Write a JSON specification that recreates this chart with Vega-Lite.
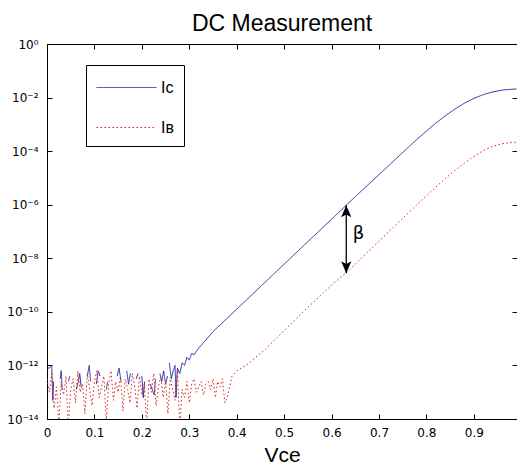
{
  "$schema": "https://vega.github.io/schema/vega-lite/v6.json",
  "width": 470,
  "height": 375,
  "autosize": {"type": "none"},
  "padding": {"left": 47, "top": 44, "right": 0, "bottom": 46},
  "title": {"text": "DC Measurement", "font": "Liberation Sans", "fontSize": 23, "fontWeight": "normal", "color": "black", "anchor": "middle", "frame": "group", "offset": 2},
  "datasets": {
    "curves": [
      {"v":0.000,"i":7.94e-13,"s":"IC","g":1},{"v":0.005,"i":7.94e-13,"s":"IC","g":1},{"v":0.010,"i":1e-12,"s":"IC","g":1},{"v":0.012,"i":5.01e-14,"s":"IC","g":1},{"v":0.014,"i":2.51e-13,"s":"IC","g":1},
      {"v":0.028,"i":3.16e-13,"s":"IC","g":2},{"v":0.030,"i":6.31e-13,"s":"IC","g":2},{"v":0.032,"i":1.26e-13,"s":"IC","g":2},
      {"v":0.045,"i":2.51e-13,"s":"IC","g":3},{"v":0.048,"i":3.98e-13,"s":"IC","g":3},
      {"v":0.062,"i":1.26e-13,"s":"IC","g":4},{"v":0.066,"i":2.51e-13,"s":"IC","g":4},{"v":0.069,"i":5.01e-13,"s":"IC","g":4},{"v":0.072,"i":1.58e-13,"s":"IC","g":4},
      {"v":0.085,"i":3.98e-13,"s":"IC","g":5},{"v":0.089,"i":1e-12,"s":"IC","g":5},{"v":0.092,"i":2.51e-13,"s":"IC","g":5},
      {"v":0.104,"i":2.0e-13,"s":"IC","g":6},{"v":0.108,"i":6.31e-13,"s":"IC","g":6},{"v":0.112,"i":3.98e-13,"s":"IC","g":6},
      {"v":0.125,"i":1.26e-13,"s":"IC","g":7},{"v":0.128,"i":2.51e-13,"s":"IC","g":7},
      {"v":0.148,"i":3.98e-13,"s":"IC","g":8},{"v":0.152,"i":7.94e-13,"s":"IC","g":8},{"v":0.156,"i":2.51e-13,"s":"IC","g":8},
      {"v":0.168,"i":6.31e-13,"s":"IC","g":9},{"v":0.172,"i":2.0e-13,"s":"IC","g":9},{"v":0.176,"i":5.01e-13,"s":"IC","g":9},
      {"v":0.188,"i":3.16e-13,"s":"IC","g":10},{"v":0.192,"i":5.01e-13,"s":"IC","g":10},
      {"v":0.200,"i":3.98e-13,"s":"IC","g":11},{"v":0.203,"i":6.31e-14,"s":"IC","g":11},{"v":0.206,"i":2.51e-13,"s":"IC","g":11},
      {"v":0.218,"i":2.0e-13,"s":"IC","g":12},{"v":0.222,"i":1.26e-13,"s":"IC","g":12},{"v":0.226,"i":7.94e-14,"s":"IC","g":12},{"v":0.229,"i":3.16e-13,"s":"IC","g":12},
      {"v":0.238,"i":5.01e-13,"s":"IC","g":13},{"v":0.242,"i":2.51e-13,"s":"IC","g":13},{"v":0.246,"i":6.31e-13,"s":"IC","g":13},{"v":0.250,"i":2.0e-13,"s":"IC","g":13},{"v":0.254,"i":3.98e-13,"s":"IC","g":13},
      {"v":0.258,"i":1.26e-12,"s":"IC","g":14},{"v":0.262,"i":3.16e-13,"s":"IC","g":14},{"v":0.266,"i":6.31e-13,"s":"IC","g":14},{"v":0.270,"i":1e-12,"s":"IC","g":14},{"v":0.272,"i":6.31e-14,"s":"IC","g":14},{"v":0.275,"i":7.94e-13,"s":"IC","g":14},
      {"v":0.280,"i":5.01e-13,"s":"IC","g":14},{"v":0.285,"i":1.26e-12,"s":"IC","g":14},{"v":0.290,"i":1e-12,"s":"IC","g":14},{"v":0.295,"i":2.0e-12,"s":"IC","g":14},{"v":0.300,"i":1.58e-12,"s":"IC","g":14},{"v":0.305,"i":2.82e-12,"s":"IC","g":14},{"v":0.310,"i":2.51e-12,"s":"IC","g":14},{"v":0.320,"i":4.47e-12,"s":"IC","g":14},{"v":0.330,"i":7.08e-12,"s":"IC","g":14},{"v":0.350,"i":1.82e-11,"s":"IC","g":14},{"v":0.400,"i":1.26e-10,"s":"IC","g":14},{"v":0.450,"i":8.71e-10,"s":"IC","g":14},{"v":0.500,"i":6.03e-9,"s":"IC","g":14},{"v":0.550,"i":4.17e-8,"s":"IC","g":14},{"v":0.600,"i":2.88e-7,"s":"IC","g":14},{"v":0.650,"i":2.0e-6,"s":"IC","g":14},{"v":0.700,"i":1.32e-5,"s":"IC","g":14},{"v":0.750,"i":8.91e-5,"s":"IC","g":14},{"v":0.780,"i":2.75e-4,"s":"IC","g":14},{"v":0.800,"i":5.62e-4,"s":"IC","g":14},{"v":0.820,"i":1.12e-3,"s":"IC","g":14},{"v":0.840,"i":2.09e-3,"s":"IC","g":14},{"v":0.860,"i":3.72e-3,"s":"IC","g":14},{"v":0.880,"i":6.17e-3,"s":"IC","g":14},{"v":0.900,"i":9.33e-3,"s":"IC","g":14},{"v":0.920,"i":1.29e-2,"s":"IC","g":14},{"v":0.940,"i":1.62e-2,"s":"IC","g":14},{"v":0.960,"i":1.91e-2,"s":"IC","g":14},{"v":0.980,"i":2.04e-2,"s":"IC","g":14},{"v":0.990,"i":2.09e-2,"s":"IC","g":14},
      {"v":0.000,"i":3.16e-13,"s":"IB","g":0},{"v":0.005,"i":1e-13,"s":"IB","g":0},{"v":0.010,"i":5.01e-13,"s":"IB","g":0},{"v":0.015,"i":2.51e-14,"s":"IB","g":0},{"v":0.020,"i":1.58e-13,"s":"IB","g":0},{"v":0.025,"i":6.31e-15,"s":"IB","g":0},{"v":0.030,"i":2.51e-13,"s":"IB","g":0},{"v":0.035,"i":7.94e-14,"s":"IB","g":0},{"v":0.040,"i":3.98e-13,"s":"IB","g":0},{"v":0.045,"i":5.01e-15,"s":"IB","g":0},
      {"v":0.050,"i":1.26e-13,"s":"IB","g":0},{"v":0.055,"i":3.16e-13,"s":"IB","g":0},{"v":0.060,"i":3.98e-14,"s":"IB","g":0},{"v":0.065,"i":6.31e-13,"s":"IB","g":0},{"v":0.070,"i":1e-13,"s":"IB","g":0},{"v":0.075,"i":2.0e-13,"s":"IB","g":0},{"v":0.080,"i":1.58e-14,"s":"IB","g":0},{"v":0.085,"i":5.01e-13,"s":"IB","g":0},{"v":0.090,"i":1.26e-13,"s":"IB","g":0},{"v":0.095,"i":3.16e-14,"s":"IB","g":0},
      {"v":0.100,"i":2.51e-13,"s":"IB","g":0},{"v":0.105,"i":6.31e-13,"s":"IB","g":0},{"v":0.110,"i":6.31e-14,"s":"IB","g":0},{"v":0.115,"i":1.58e-13,"s":"IB","g":0},{"v":0.120,"i":3.98e-13,"s":"IB","g":0},{"v":0.125,"i":7.94e-15,"s":"IB","g":0},{"v":0.130,"i":2.0e-13,"s":"IB","g":0},{"v":0.135,"i":6.31e-13,"s":"IB","g":0},{"v":0.140,"i":5.01e-14,"s":"IB","g":0},{"v":0.145,"i":2.51e-13,"s":"IB","g":0},
      {"v":0.150,"i":1e-13,"s":"IB","g":0},{"v":0.155,"i":3.98e-13,"s":"IB","g":0},{"v":0.160,"i":2.0e-14,"s":"IB","g":0},{"v":0.165,"i":3.16e-13,"s":"IB","g":0},{"v":0.170,"i":1.26e-13,"s":"IB","g":0},{"v":0.175,"i":3.98e-14,"s":"IB","g":0},{"v":0.180,"i":5.01e-13,"s":"IB","g":0},{"v":0.185,"i":1.58e-13,"s":"IB","g":0},{"v":0.190,"i":2.51e-14,"s":"IB","g":0},{"v":0.195,"i":3.98e-13,"s":"IB","g":0},
      {"v":0.200,"i":7.94e-14,"s":"IB","g":0},{"v":0.205,"i":2.0e-13,"s":"IB","g":0},{"v":0.210,"i":6.31e-15,"s":"IB","g":0},{"v":0.215,"i":3.16e-13,"s":"IB","g":0},{"v":0.220,"i":1e-13,"s":"IB","g":0},{"v":0.225,"i":5.01e-13,"s":"IB","g":0},{"v":0.230,"i":3.16e-14,"s":"IB","g":0},{"v":0.235,"i":1.58e-13,"s":"IB","g":0},{"v":0.240,"i":3.98e-13,"s":"IB","g":0},{"v":0.245,"i":6.31e-14,"s":"IB","g":0},
      {"v":0.250,"i":2.51e-13,"s":"IB","g":0},{"v":0.255,"i":1.58e-14,"s":"IB","g":0},{"v":0.260,"i":3.16e-13,"s":"IB","g":0},{"v":0.265,"i":1.26e-13,"s":"IB","g":0},{"v":0.270,"i":5.01e-14,"s":"IB","g":0},{"v":0.275,"i":6.31e-13,"s":"IB","g":0},{"v":0.280,"i":5.01e-15,"s":"IB","g":0},{"v":0.285,"i":1.26e-13,"s":"IB","g":0},{"v":0.290,"i":6.31e-14,"s":"IB","g":0},{"v":0.295,"i":2.51e-13,"s":"IB","g":0},
      {"v":0.300,"i":3.98e-14,"s":"IB","g":0},{"v":0.305,"i":2.0e-13,"s":"IB","g":0},{"v":0.310,"i":3.16e-13,"s":"IB","g":0},{"v":0.315,"i":1e-13,"s":"IB","g":0},{"v":0.320,"i":1.58e-13,"s":"IB","g":0},{"v":0.325,"i":2.51e-13,"s":"IB","g":0},{"v":0.330,"i":7.94e-14,"s":"IB","g":0},{"v":0.335,"i":2.0e-13,"s":"IB","g":0},{"v":0.340,"i":2.51e-13,"s":"IB","g":0},{"v":0.345,"i":1.26e-13,"s":"IB","g":0},
      {"v":0.350,"i":3.16e-13,"s":"IB","g":0},{"v":0.355,"i":6.31e-14,"s":"IB","g":0},{"v":0.360,"i":2.51e-13,"s":"IB","g":0},{"v":0.365,"i":1.58e-13,"s":"IB","g":0},{"v":0.370,"i":3.16e-13,"s":"IB","g":0},{"v":0.375,"i":3.98e-14,"s":"IB","g":0},{"v":0.380,"i":6.31e-14,"s":"IB","g":0},
      {"v":0.390,"i":3.98e-13,"s":"IB","g":0},{"v":0.400,"i":6.31e-13,"s":"IB","g":0},{"v":0.420,"i":1e-12,"s":"IB","g":0},{"v":0.440,"i":2.0e-12,"s":"IB","g":0},{"v":0.460,"i":3.98e-12,"s":"IB","g":0},{"v":0.480,"i":8.91e-12,"s":"IB","g":0},{"v":0.500,"i":2.0e-11,"s":"IB","g":0},{"v":0.520,"i":4.47e-11,"s":"IB","g":0},{"v":0.540,"i":1e-10,"s":"IB","g":0},{"v":0.560,"i":2.14e-10,"s":"IB","g":0},
      {"v":0.580,"i":4.57e-10,"s":"IB","g":0},{"v":0.600,"i":1e-9,"s":"IB","g":0},{"v":0.620,"i":2.0e-9,"s":"IB","g":0},{"v":0.640,"i":3.98e-9,"s":"IB","g":0},{"v":0.660,"i":8.91e-9,"s":"IB","g":0},{"v":0.680,"i":2.0e-8,"s":"IB","g":0},{"v":0.700,"i":4.37e-8,"s":"IB","g":0},{"v":0.720,"i":9.55e-8,"s":"IB","g":0},{"v":0.740,"i":2.09e-7,"s":"IB","g":0},{"v":0.760,"i":4.57e-7,"s":"IB","g":0},
      {"v":0.780,"i":1e-6,"s":"IB","g":0},{"v":0.800,"i":2.14e-6,"s":"IB","g":0},{"v":0.820,"i":4.57e-6,"s":"IB","g":0},{"v":0.840,"i":9.55e-6,"s":"IB","g":0},{"v":0.860,"i":1.91e-5,"s":"IB","g":0},{"v":0.880,"i":3.55e-5,"s":"IB","g":0},{"v":0.900,"i":6.31e-5,"s":"IB","g":0},{"v":0.920,"i":1.05e-4,"s":"IB","g":0},{"v":0.940,"i":1.51e-4,"s":"IB","g":0},{"v":0.960,"i":1.91e-4,"s":"IB","g":0},{"v":0.980,"i":2.09e-4,"s":"IB","g":0},{"v":0.990,"i":2.14e-4,"s":"IB","g":0}
    ],
    "arrow": [{"v": 0.631, "top": 9.55e-7, "bottom": 2.75e-9, "lv": 0.657, "ly": 7.94e-8, "label": "β"}]
  },
  "layer": [
    {
      "data": {"name": "curves"},
      "mark": {"type": "line", "strokeWidth": 1, "clip": true},
      "encoding": {
        "x": {"field": "v", "type": "quantitative", "scale": {"domain": [0, 0.991], "nice": false, "zero": false},
          "axis": {"orient": "bottom", "values": [0, 0.1, 0.2, 0.3, 0.4, 0.5, 0.6, 0.7, 0.8, 0.9], "format": "~g", "labelFlush": false, "title": "Vce", "titleFont": "Liberation Sans", "titleFontSize": 21, "titleFontWeight": "normal", "titleColor": "black", "titlePadding": 6, "labelPadding": 13, "tickSize": -5}},
        "y": {"field": "i", "type": "quantitative", "scale": {"type": "log", "domain": [1e-14, 1], "nice": false},
          "axis": {"orient": "left", "values": [1, 0.01, 0.0001, 1e-6, 1e-8, 1e-10, 1e-12, 1e-14], "labelExpr": "['10⁰','10⁻²','10⁻⁴','10⁻⁶','10⁻⁸','10⁻¹⁰','10⁻¹²','10⁻¹⁴'][round(-log(datum.value)/LN10/2)]", "labelFlush": false, "title": null, "labelPadding": 14, "tickSize": -5}},
        "color": {"field": "s", "type": "nominal", "scale": {"domain": ["IC", "IB"], "range": ["#2a2aa8", "#e02020"]},
          "legend": {"title": null, "orient": "none", "legendX": 39, "legendY": 21, "strokeColor": "black", "fillColor": "white", "padding": 10, "symbolType": "M-1,0H4", "symbolSize": 576, "symbolStrokeWidth": 1, "labelOffset": 40, "rowPadding": 19, "labelFont": "Liberation Sans", "labelFontSize": 16, "labelColor": "black", "labelExpr": "datum.label == 'IC' ? 'Iᴄ' : 'Iʙ'"}},
        "strokeDash": {"field": "s", "type": "nominal", "scale": {"domain": ["IC", "IB"], "range": [[1, 0], [1.5, 2.5]]},
          "legend": {"title": null, "orient": "none", "legendX": 39, "legendY": 21, "strokeColor": "black", "fillColor": "white", "padding": 10, "symbolType": "M-1,0H4", "symbolSize": 576, "symbolStrokeWidth": 1, "labelOffset": 40, "rowPadding": 19, "labelFont": "Liberation Sans", "labelFontSize": 16, "labelColor": "black", "labelExpr": "datum.label == 'IC' ? 'Iᴄ' : 'Iʙ'"}},
        "detail": {"field": "g", "type": "nominal"}
      }
    },
    {
      "data": {"name": "arrow"},
      "mark": {"type": "rule", "color": "black", "strokeWidth": 1.3},
      "encoding": {
        "x": {"field": "v", "type": "quantitative", "scale": {"domain": [0, 0.991], "nice": false, "zero": false},
          "axis": {"orient": "top", "values": [0.1, 0.2, 0.3, 0.4, 0.5, 0.6, 0.7, 0.8, 0.9], "labels": false, "title": null, "domain": false, "tickSize": -5, "minExtent": 0, "maxExtent": 0}},
        "y": {"field": "top", "type": "quantitative", "scale": {"type": "log", "domain": [1e-14, 1], "nice": false},
          "axis": {"orient": "right", "values": [0.01, 0.0001, 1e-6, 1e-8, 1e-10, 1e-12], "labels": false, "title": null, "domain": false, "tickSize": -5, "minExtent": 0, "maxExtent": 0}},
        "y2": {"field": "bottom"}
      }
    },
    {
      "data": {"name": "arrow"},
      "mark": {"type": "point", "shape": "M0,-1L0.85,1L0,0.55L-0.85,1Z", "filled": true, "color": "black", "opacity": 1, "size": 144, "yOffset": 6},
      "encoding": {
        "x": {"field": "v", "type": "quantitative", "scale": {"domain": [0, 0.991], "nice": false, "zero": false}, "axis": null},
        "y": {"field": "top", "type": "quantitative", "scale": {"type": "log", "domain": [1e-14, 1], "nice": false}, "axis": null}
      }
    },
    {
      "data": {"name": "arrow"},
      "mark": {"type": "point", "shape": "M0,1L0.85,-1L0,-0.55L-0.85,-1Z", "filled": true, "color": "black", "opacity": 1, "size": 144, "yOffset": -6},
      "encoding": {
        "x": {"field": "v", "type": "quantitative", "scale": {"domain": [0, 0.991], "nice": false, "zero": false}, "axis": null},
        "y": {"field": "bottom", "type": "quantitative", "scale": {"type": "log", "domain": [1e-14, 1], "nice": false}, "axis": null}
      }
    },
    {
      "data": {"name": "arrow"},
      "mark": {"type": "text", "font": "DejaVu Sans", "fontSize": 18, "align": "center", "baseline": "middle", "color": "black"},
      "encoding": {
        "x": {"field": "lv", "type": "quantitative", "scale": {"domain": [0, 0.991], "nice": false, "zero": false}, "axis": null},
        "y": {"field": "ly", "type": "quantitative", "scale": {"type": "log", "domain": [1e-14, 1], "nice": false}, "axis": null},
        "text": {"field": "label"}
      }
    }
  ],
  "resolve": {"axis": {"x": "independent", "y": "independent"}},
  "config": {
    "view": {"stroke": "black", "strokeWidth": 1},
    "axis": {"grid": false, "domainColor": "black", "tickColor": "black", "labelColor": "black", "labelFont": "DejaVu Sans", "labelFontSize": 12, "tickWidth": 1, "domainWidth": 1}
  }
}
